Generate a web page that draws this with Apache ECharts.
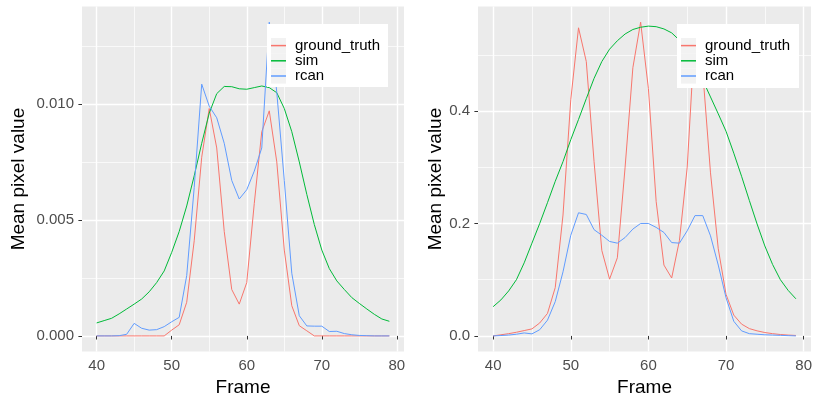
<!DOCTYPE html>
<html><head><meta charset="utf-8">
<script src="https://cdn.jsdelivr.net/npm/echarts@6/dist/echarts.min.js"></script>
<style>html,body{margin:0;padding:0;background:#fff}#c{width:815px;height:402px}</style>
</head><body><div id="c"></div>
<script>
// ---- data ----
const frames = [40,41,42,43,44,45,46,47,48,49,50,51,52,53,54,55,56,57,58,59,60,61,62,63,64,65,66,67,68,69,70,71,72,73,74,75,76,77,78,79];
const seriesNames = ['ground_truth','sim','rcan'];
const seriesColors = ['#F8766D','#00BA38','#619CFF'];

const leftGroundTruth = [0,0,0,0,0,0,0,0,0,0,
  0.00025,0.00048,0.00145,0.0041,0.0077,0.0098,0.0081,0.0045,0.0020,0.00137,
  0.0023,0.0057,0.0088,0.0097,0.0075,0.0037,0.0013,0.00044,0.00022,0,
  0,0,0,0,0,0,0,0,0,0];
const leftSim = [0.00056,0.00066,0.00076,0.00095,0.00116,0.00137,0.00159,0.0019,0.0023,0.0028,
  0.0036,0.0045,0.0056,0.0069,0.0083,0.0096,0.01044,0.01075,0.01074,0.01065,
  0.01063,0.0107,0.01077,0.0107,0.01048,0.0098,0.0088,0.0075,0.0061,0.0048,
  0.0037,0.0029,0.00237,0.0020,0.00165,0.0014,0.00116,0.00093,0.00073,0.00063];
const leftRcan = [0,0,0,0.00001,0.00007,0.00054,0.00033,0.00025,0.00027,0.0004,
  0.00061,0.0008,0.0026,0.0064,0.01085,0.0099,0.0094,0.0083,0.0067,0.0059,
  0.0063,0.0071,0.0081,0.01352,0.0105,0.0067,0.0027,0.00087,0.00043,0.00042,
  0.00042,0.00019,0.0002,0.0001,0.00005,0.00002,0.00001,0,0,0];

const rightGroundTruth = [0,0.002,0.004,0.0065,0.0095,0.0125,0.023,0.04,0.086,0.215,
  0.42,0.548,0.488,0.31,0.152,0.101,0.139,0.30,0.477,0.558,
  0.44,0.239,0.126,0.103,0.17,0.30,0.54,0.47,0.29,0.155,
  0.074,0.037,0.021,0.013,0.009,0.006,0.004,0.0025,0.0015,0.0008];
const rightSim = [0.052,0.064,0.08,0.10,0.13,0.165,0.20,0.237,0.275,0.31,
  0.349,0.385,0.422,0.458,0.488,0.51,0.525,0.537,0.545,0.549,
  0.551,0.55,0.546,0.539,0.526,0.507,0.483,0.455,0.425,0.395,
  0.364,0.325,0.284,0.241,0.199,0.16,0.127,0.10,0.081,0.066];
const rightRcan = [0,0.0007,0.0015,0.003,0.0053,0.0036,0.011,0.028,0.061,0.114,
  0.179,0.219,0.216,0.189,0.179,0.168,0.165,0.175,0.19,0.20,
  0.20,0.193,0.184,0.166,0.165,0.187,0.214,0.214,0.178,0.126,
  0.068,0.026,0.009,0.004,0.003,0.002,0.0015,0.001,0.0005,0];

const xTicks = [40,50,60,70,80];
const xMinorTicks = [45,55,65,75];
const leftYTicks = [0,0.005,0.010];
const leftYMinorTicks = [0.0025,0.0075,0.0125];
const rightYTicks = [0,0.2,0.4];
const rightYMinorTicks = [0.1,0.3,0.5];

// ---- chart ----
const FONT = '"Liberation Sans", Arial, Helvetica, sans-serif';
const chart = echarts.init(document.getElementById('c'), null, {renderer:'canvas'});

function expandRange(values){
  const mn = Math.min(...values), mx = Math.max(...values);
  const pad = (mx - mn) * 0.05;
  return [mn - pad, mx + pad];
}
const xr = expandRange(frames);
const ylr = expandRange(leftGroundTruth.concat(leftSim, leftRcan));
const yrr = expandRange(rightGroundTruth.concat(rightSim, rightRcan));

const gridTop = 6.5, gridH = 346.3;
const grids = [
  {left:82, top:gridTop, width:322, height:gridH, show:true, backgroundColor:'#EBEBEB', borderWidth:0},
  {left:478, top:gridTop, width:337.6, height:gridH, show:true, backgroundColor:'#EBEBEB', borderWidth:0}
];

function mainX(gi){
  return {type:'value', gridIndex:gi, min:xr[0], max:xr[1],
    axisLine:{show:false},
    axisTick:{show:true, length:3.6, customValues:xTicks, lineStyle:{color:'#333333', width:1}},
    axisLabel:{customValues:xTicks, color:'#4D4D4D', fontSize:15, fontFamily:FONT, margin:6.5},
    splitLine:{show:true, lineStyle:{color:'#FFFFFF', width:1.4}},
    name:'Frame', nameLocation:'middle', nameGap:24,
    nameTextStyle:{fontSize:19, color:'#000', fontFamily:FONT}};
}
function minorX(gi){
  return {type:'value', gridIndex:gi, min:xr[0], max:xr[1],
    axisLine:{show:false}, axisTick:{show:false, customValues:xMinorTicks},
    axisLabel:{show:false, customValues:xMinorTicks},
    splitLine:{show:true, lineStyle:{color:'#FFFFFF', width:0.7}}};
}
function mainY(gi, rng, ticks, digits, gap){
  return {type:'value', gridIndex:gi, min:rng[0], max:rng[1],
    axisLine:{show:false},
    axisTick:{show:true, length:3.6, customValues:ticks, lineStyle:{color:'#333333', width:1}},
    axisLabel:{customValues:ticks, color:'#4D4D4D', fontSize:15, fontFamily:FONT, margin:8,
      formatter:v=>Number(v).toFixed(digits)},
    splitLine:{show:true, lineStyle:{color:'#FFFFFF', width:1.4}},
    name:'Mean pixel value', nameLocation:'middle', nameGap:gap,
    nameTextStyle:{fontSize:19, color:'#000', fontFamily:FONT}};
}
function minorY(gi, rng, ticks){
  return {type:'value', gridIndex:gi, min:rng[0], max:rng[1],
    axisLine:{show:false}, axisTick:{show:false, customValues:ticks},
    axisLabel:{show:false, customValues:ticks},
    splitLine:{show:true, lineStyle:{color:'#FFFFFF', width:0.7}}};
}

const leftSets = [leftGroundTruth, leftSim, leftRcan];
const rightSets = [rightGroundTruth, rightSim, rightRcan];
const series = [];
[[leftSets,0,0],[rightSets,2,2]].forEach(([sets,xi,yi])=>{
  sets.forEach((arr,k)=>{
    series.push({type:'line', name:seriesNames[k], xAxisIndex:xi, yAxisIndex:yi,
      data:frames.map((f,i)=>[f,arr[i]]), showSymbol:false, symbol:'none',
      lineStyle:{color:seriesColors[k], width:1}, itemStyle:{color:seriesColors[k]},
      z:2+k, animation:false, silent:true});
  });
});

function legendAt(left, top){
  return {orient:'vertical', left:left, top:top, itemWidth:15, itemHeight:1.5, icon:'rect',
    itemGap:0, selectedMode:false, data:seriesNames, z:50, backgroundColor:'transparent', padding:0,
    textStyle:{fontSize:15, lineHeight:15.2, color:'#000', fontFamily:FONT, padding:[0,0,0,4]}};
}
function legendBox(x, y, w, h){
  const els = [{type:'rect', shape:{x:x, y:y, width:w, height:h}, style:{fill:'#FFFFFF'}, z:40, silent:true}];
  for(let i=0;i<3;i++){
    els.push({type:'rect', shape:{x:x+4, y:y+14+15.2*i, width:15, height:15.2}, style:{fill:'#F2F2F2'}, z:41, silent:true});
  }
  return els;
}

chart.setOption({
  animation:false,
  backgroundColor:'#FFFFFF',
  textStyle:{fontFamily:FONT},
  grid:grids,
  xAxis:[mainX(0), minorX(0), mainX(1), minorX(1)],
  yAxis:[mainY(0, ylr, leftYTicks, 3, 54), minorY(0, ylr, leftYMinorTicks),
         mainY(1, yrr, rightYTicks, 1, 31), minorY(1, yrr, rightYMinorTicks)],
  legend:[legendAt(271, 38), legendAt(681, 38)],
  graphic:{elements: legendBox(267, 24, 121, 63).concat(legendBox(677, 24, 122, 64))},
  series:series
});
</script></body></html>
